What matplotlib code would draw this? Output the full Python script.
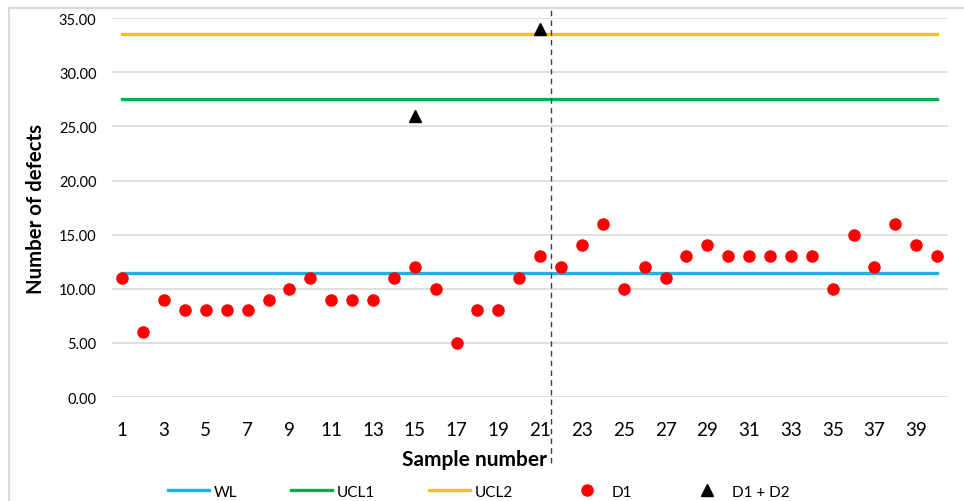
import numpy as np
import matplotlib.pyplot as plt
from matplotlib.patches import Rectangle

plt.rcParams['font.family'] = ['Lato', 'DejaVu Sans']

# Data
samples = list(range(1, 41))
d1 = [11, 6, 9, 8, 8, 8, 8, 9, 10, 11, 9, 9, 9, 11, 12, 10, 5, 8, 8, 11,
      13, 12, 14, 16, 10, 12, 11, 13, 14, 13, 13, 13, 13, 13, 10, 15, 12, 16, 14, 13]
d1d2_samples = [15, 21]
d1d2_values = [26, 34]
wl = 11.5
ucl1 = 27.5
ucl2 = 33.5
split_at = 21.5

fig = plt.figure(figsize=(9.64, 5.02), dpi=100)
ax = fig.add_axes([0.116, 0.207, 0.867, 0.755])

# light frame around the whole chart (open on the right/bottom like the source)
fig.patches.append(Rectangle((0.009, -0.05), 1.1, 1.032, transform=fig.transFigure,
                             fill=False, edgecolor='#d9d9d9', linewidth=1.5))

x = np.array(samples)
ax.plot([1, 40], [wl, wl], color='#1fb0e6', linewidth=2.4, label='WL')
ax.plot([1, 40], [ucl1, ucl1], color='#00b050', linewidth=2.4, label='UCL1')
ax.plot([1, 40], [ucl2, ucl2], color='#ffc000', linewidth=2.4, label='UCL2')
ax.plot(x, d1, linestyle='none', marker='o', markersize=8, color='#ff0000', label='D1', zorder=4)
ax.plot(d1d2_samples, d1d2_values, linestyle='none', marker='^', markersize=8,
        color='black', label='D1 + D2', zorder=4)

# dashed separator
ax.axvline(split_at, ymin=-0.175, ymax=1.025, color='#404040', linestyle=(0, (4, 3)),
           linewidth=1, clip_on=False, zorder=5)

ax.set_xlim(0.5, 40.5)
ax.set_ylim(0, 35)
ax.set_yticks(np.arange(0, 36, 5))
ax.set_yticklabels([f'{v:.2f}' for v in np.arange(0, 36, 5)], fontsize=10.5)
ax.set_xticks(samples[::2])
ax.set_xticklabels([str(s) for s in samples[::2]], fontsize=13.5)
ax.tick_params(length=0)
ax.tick_params(axis='x', pad=17)
ax.tick_params(axis='y', pad=11)
ax.grid(axis='y', color='#d9d9d9', linewidth=1.2)
ax.set_axisbelow(True)
for s in ax.spines.values():
    s.set_visible(False)

ax.set_xlabel('Sample number', fontsize=15, fontweight='bold')
ax.xaxis.set_label_coords(0.434, -0.137)
ax.set_ylabel('Number of defects', fontsize=14.7, fontweight='bold', labelpad=9)

ax.legend(loc='upper center', bbox_to_anchor=(0.439, -0.195), ncol=5, frameon=False,
          fontsize=11, handlelength=2.7, columnspacing=3.5, handletextpad=0.3)

fig.savefig('out.png', dpi=100)
